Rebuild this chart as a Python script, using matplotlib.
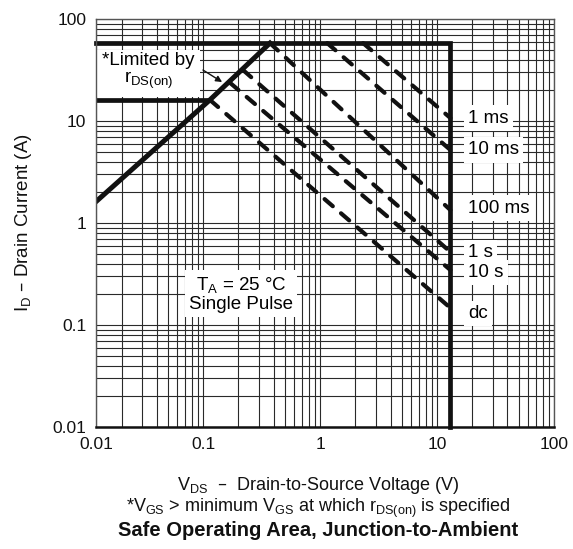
#!/usr/bin/env python3
"""Safe operating area chart, junction-to-ambient."""

import matplotlib
matplotlib.use("Agg")
import matplotlib.pyplot as plt
from matplotlib.ticker import NullFormatter

plt.rcParams["font.family"] = ["Liberation Sans", "DejaVu Sans"]
plt.rcParams["mathtext.default"] = "regular"

FS_TICK = 12.5
FS = 13.5

# axis range (the drawing's grid sits a little off the 0.01 edge)
V_MIN, V_MAX_AX = 0.0121, 100
I_MIN, I_MAX_AX = 0.01, 100

# package limits
i_limit = 58        # upper current limit (A)
i_cont = 16.1       # lower horizontal limit (A)
v_limit = 13.0      # drain-source voltage limit (V)

# r_DS(on) limited line
rds_v = [V_MIN, 0.114, 0.372]
rds_i = [1.62, 16.1, 58]

# pulse lines: start point on the limit, end current at v_limit
pulse_labels = ["1 ms", "10 ms", "100 ms", "1 s", "10 s", "dc"]
pulse_v_start = [2.33, 1.15, 0.372, 0.219, 0.170, 0.114]
pulse_i_start = [58, 58, 58, 31.6, 23.6, 16.1]
pulse_i_end = [10.7, 5.2, 1.34, 0.52, 0.346, 0.147]
label_i = [10.7, 5.2, 1.4, 0.51, 0.325, 0.13]
label_v = 18.5

x_ticks = [V_MIN, 0.1, 1, 10, 100]
x_ticklabels = ["0.01", "0.1", "1", "10", "100"]
y_ticks = [0.01, 0.1, 1, 10, 100]
y_ticklabels = ["0.01", "0.1", "1", "10", "100"]

fig = plt.figure(figsize=(5.73, 5.49), dpi=100)
ax = fig.add_axes([96 / 573, 1 - 427 / 549, 458 / 573, 408 / 549])

ax.set_xscale("log")
ax.set_yscale("log")
ax.set_xlim(V_MIN, V_MAX_AX)
ax.set_ylim(I_MIN, I_MAX_AX)

ax.set_axisbelow(True)
ax.grid(True, which="both", color="#2a2a2a", lw=0.8)

# limits
ax.plot([V_MIN, v_limit, v_limit], [i_limit, i_limit, I_MIN], color="#111111",
        lw=3.4, solid_joinstyle="miter", zorder=2, clip_on=False)
ax.plot([V_MIN, rds_v[1]], [i_cont, i_cont], color="#111111", lw=3.4, zorder=2)
ax.plot(rds_v, rds_i, color="#111111", lw=3.6, zorder=2)

for vs, i0, i1 in zip(pulse_v_start, pulse_i_start, pulse_i_end):
    ax.plot([vs, v_limit], [i0, i1], color="#111111", lw=3.0,
            dashes=(2.6, 2.6), dash_capstyle="round", zorder=2)

box = dict(boxstyle="square,pad=0.22", fc="white", ec="none")
for lab, yi in zip(pulse_labels, label_i):
    ax.text(label_v, yi, lab, fontsize=FS, ha="left", va="center",
            bbox=box, zorder=1.5)

ax.text(0.21, 0.2, "$T_A$ = 25 °C\nSingle Pulse", fontsize=FS,
        ha="center", va="center", multialignment="center", linespacing=1.05,
        bbox=dict(boxstyle="square,pad=0.22", fc="white", ec="none"), zorder=1.5)

ax.text(0.034, 30.5, "*Limited by\n$r_{DS(on)}$", fontsize=FS,
        ha="center", va="center", multialignment="center", linespacing=1.1,
        bbox=dict(boxstyle="square,pad=0.3", fc="white", ec="none"),
        zorder=1.5, clip_on=True)
ax.annotate("", xy=(0.145, 24.1), xytext=(0.0995, 31.6),
            arrowprops=dict(arrowstyle="-|>", color="#111111", lw=1.0,
                            mutation_scale=9, shrinkA=0, shrinkB=0), zorder=3)

ax.set_xticks(x_ticks)
ax.set_xticklabels(x_ticklabels)
ax.set_yticks(y_ticks)
ax.set_yticklabels(y_ticklabels)
ax.xaxis.set_minor_formatter(NullFormatter())
ax.yaxis.set_minor_formatter(NullFormatter())
ax.tick_params(which="both", length=0, labelsize=FS_TICK, colors="#111111")
ax.tick_params(axis="x", pad=7)
ax.tick_params(axis="y", pad=7)

for side in ["left", "top", "right"]:
    ax.spines[side].set_color("#555555")
    ax.spines[side].set_linewidth(1.0)
ax.spines["bottom"].set_color("#111111")
ax.spines["bottom"].set_linewidth(1.8)

ax.set_ylabel("$I_D$ – Drain Current (A)", fontsize=FS, color="#111111")
ax.yaxis.set_label_coords(-0.135, 0.5)

fig.text(0.555, 1 - 485 / 549, "$V_{DS}$  –  Drain-to-Source Voltage (V)",
         fontsize=13, ha="center", va="center", color="#111111")
fig.text(0.555, 1 - 508 / 549,
         "*$V_{GS}$ > minimum $V_{GS}$ at which $r_{DS(on)}$ is specified",
         fontsize=13, ha="center", va="center", color="#111111")
fig.text(0.555, 1 - 531 / 549, "Safe Operating Area, Junction-to-Ambient",
         fontsize=14.5, fontweight="bold", ha="center", va="center", color="#111111")

fig.savefig("out.png", dpi=100, facecolor="white")
plt.close(fig)
